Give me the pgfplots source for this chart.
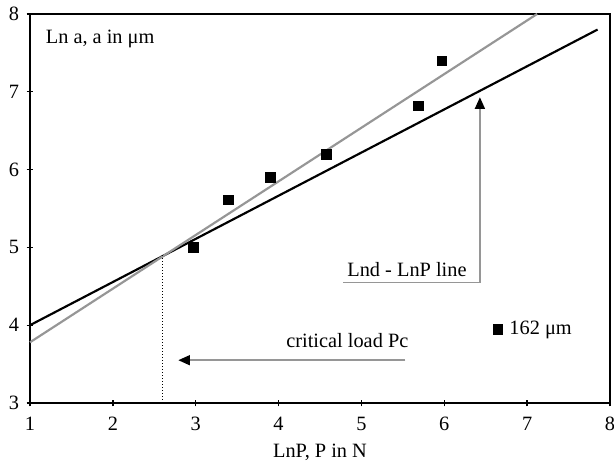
\documentclass[border=0pt]{standalone}
\usepackage{fontspec}
\setmainfont{Liberation Serif}
\usepackage{pgfplots}
\pgfplotsset{compat=1.18}
\usetikzlibrary{arrows.meta}
\definecolor{lgray}{RGB}{150,150,150}
\begin{document}
\begin{tikzpicture}
\begin{axis}[
  scale only axis,
  width=348pt, height=233.4pt,
  xmin=1, xmax=8, ymin=3, ymax=8,
  xtick={1,...,8}, ytick={3,...,8},
  xtick pos=left, ytick pos=left,
  tick align=center, major tick length=4pt,
  axis line style={line width=0.9pt},
  every tick/.style={black, line width=0.8pt},
  /pgf/number format/assume math mode=true,
  font=\fontsize{12.2}{14}\selectfont,
  xticklabel style={yshift=-3pt},
  yticklabel style={xshift=-1pt},
  xlabel={LnP, P in N},
  xlabel style={yshift=-1pt},
  legend style={draw=none, fill=none, at={(0.795,0.19)}, anchor=west,
    font=\fontsize{12.2}{14}\selectfont, inner sep=1pt,
    nodes={inner xsep=4pt}},
  legend cell align=left,
  clip=false,
]
\addplot[only marks, mark=square*, mark size=2.9pt, black] coordinates {
(2.97,5.00)
(3.39,5.61)
(3.90,5.90)
(4.58,6.20)
(5.69,6.82)
(5.97,7.40)
};
\addlegendentry{162 μm}
\addplot[black, line width=1.3pt, forget plot] coordinates {(1,4.00) (7.85,7.80)};
\addplot[lgray, line width=1.3pt, forget plot] coordinates {(1,3.78) (7.12,8.00)};
\addplot[black, densely dotted, line width=0.8pt, forget plot] coordinates {(2.6,3) (2.6,4.9)};
\addplot[lgray, line width=1pt, -{Triangle[black,length=7pt,width=6pt]}, forget plot]
  coordinates {(5.53,3.55) (2.79,3.55)};
\addplot[lgray, line width=1pt, -{Triangle[black,length=7pt,width=6pt]}, forget plot]
  coordinates {(4.78,4.55) (6.43,4.55) (6.43,6.93)};
\node[anchor=west] at (axis cs:1.12,7.68) {Ln a, a in μm};
\node[anchor=east] at (axis cs:6.34,4.72) {Lnd - LnP line};
\node at (axis cs:4.83,3.80) {critical load Pc};
\end{axis}
\pgfresetboundingbox
\path (current axis.south west) ++(-18pt,-37.8pt) coordinate (bl);
\path (current axis.north east) ++(2.4pt,8.4pt) coordinate (tr);
\path (bl) rectangle (tr);
\end{tikzpicture}
\end{document}
